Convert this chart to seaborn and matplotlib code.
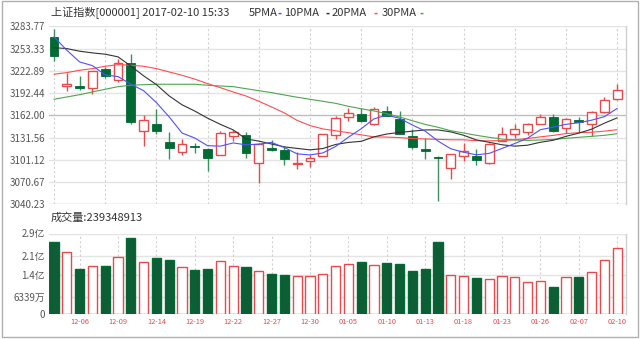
import matplotlib
matplotlib.use("Agg")
import matplotlib.pyplot as plt
from matplotlib.patches import Rectangle
import numpy as np
import pandas as pd
import seaborn as sns

# ---- daily bars: 上证指数 (000001), 2016-12-02 .. 2017-02-10 ----
dates = ["12-02", "12-05", "12-06", "12-07", "12-08", "12-09", "12-12", "12-13", "12-14",
         "12-15", "12-16", "12-19", "12-20", "12-21", "12-22", "12-23", "12-26", "12-27",
         "12-28", "12-29", "12-30", "01-03", "01-04", "01-05", "01-06", "01-09", "01-10",
         "01-11", "01-12", "01-13", "01-16", "01-17", "01-18", "01-19", "01-20", "01-23",
         "01-24", "01-25", "01-26", "02-03", "02-06", "02-07", "02-08", "02-09", "02-10"]

opens = [3269.7, 3202.5, 3202.1, 3199.4, 3225.4, 3210.0, 3234.1, 3140.1, 3150.1,
         3125.4, 3111.7, 3120.0, 3116.3, 3107.6, 3133.2, 3134.6, 3096.2, 3117.2,
         3114.4, 3095.5, 3099.0, 3106.2, 3134.6, 3159.3, 3164.2, 3149.7, 3167.5,
         3157.3, 3133.6, 3116.3, 3105.2, 3090.0, 3105.7, 3105.7, 3096.2, 3127.2,
         3136.0, 3138.7, 3150.1, 3159.3, 3144.6, 3155.2, 3149.7, 3166.1, 3183.9]
highs = [3280.6, 3220.4, 3215.8, 3223.0, 3228.2, 3239.5, 3246.0, 3162.0, 3170.2,
         3139.1, 3129.1, 3124.3, 3117.2, 3140.5, 3141.5, 3139.1, 3124.0, 3127.7,
         3119.9, 3111.7, 3108.0, 3136.9, 3160.6, 3172.0, 3172.0, 3173.4, 3174.7,
         3167.5, 3142.8, 3130.9, 3106.0, 3109.0, 3123.7, 3116.3, 3124.0, 3146.0,
         3150.1, 3151.9, 3164.2, 3163.8, 3158.7, 3160.1, 3167.5, 3187.1, 3205.2]
lows = [3236.0, 3195.3, 3196.3, 3190.8, 3213.1, 3207.6, 3150.5, 3119.5, 3136.8,
        3101.7, 3107.2, 3110.7, 3085.3, 3107.0, 3126.8, 3103.5, 3069.0, 3113.0,
        3094.3, 3088.4, 3090.7, 3105.8, 3129.9, 3154.6, 3152.8, 3148.3, 3161.0,
        3136.2, 3116.3, 3102.5, 3044.7, 3074.3, 3099.8, 3094.3, 3095.0, 3126.4,
        3131.3, 3134.6, 3149.5, 3139.1, 3137.4, 3139.1, 3133.2, 3165.5, 3183.0]
closes = [3243.8, 3204.7, 3199.7, 3222.2, 3215.4, 3232.9, 3153.0, 3155.0, 3140.5,
          3117.7, 3123.0, 3118.1, 3102.9, 3137.4, 3139.6, 3110.2, 3122.6, 3114.7,
          3102.2, 3096.1, 3103.6, 3135.9, 3158.8, 3165.4, 3154.3, 3171.2, 3161.7,
          3136.8, 3119.3, 3112.8, 3103.4, 3108.8, 3113.0, 3101.3, 3123.1, 3136.8,
          3142.6, 3149.6, 3159.2, 3140.2, 3157.0, 3153.1, 3167.0, 3183.2, 3196.7]

# turnover, in 亿股
volumes = [2.596, 2.247, 1.615, 1.723, 1.745, 2.068, 2.750, 1.877, 2.021,
           1.938, 1.687, 1.590, 1.615, 1.902, 1.723, 1.698, 1.565, 1.457,
           1.410, 1.375, 1.386, 1.457, 1.723, 1.795, 1.877, 1.770, 1.841,
           1.816, 1.554, 1.615, 2.585, 1.400, 1.375, 1.303, 1.278, 1.375,
           1.328, 1.170, 1.195, 0.991, 1.328, 1.350, 1.518, 1.949, 2.39348913]

ma5 = [3269.3, 3251.1, 3235.0, 3230.0, 3217.2, 3215.0, 3204.6, 3195.7, 3179.4,
       3159.8, 3137.8, 3130.9, 3120.4, 3119.8, 3124.2, 3121.6, 3122.5, 3124.9,
       3117.9, 3109.2, 3107.8, 3110.5, 3119.3, 3132.0, 3143.6, 3157.1, 3162.3,
       3157.9, 3148.7, 3140.4, 3126.8, 3116.2, 3111.5, 3107.9, 3109.9, 3116.6,
       3123.4, 3130.7, 3142.3, 3145.7, 3149.7, 3151.8, 3155.3, 3160.1, 3171.4]
ma10 = [3254.6, 3253.3, 3249.7, 3247.4, 3245.6, 3242.0, 3229.5, 3216.0, 3204.0,
        3188.5, 3176.4, 3167.8, 3158.1, 3149.6, 3142.0, 3129.7, 3126.7, 3122.7,
        3118.8, 3116.7, 3114.7, 3116.5, 3122.1, 3124.9, 3126.4, 3132.5, 3136.4,
        3138.6, 3140.3, 3142.0, 3142.0, 3139.3, 3134.7, 3128.3, 3125.1, 3121.7,
        3119.8, 3121.1, 3125.1, 3127.8, 3133.2, 3137.6, 3143.0, 3151.2, 3158.5]
ma20 = [3218.2, 3220.4, 3223.6, 3225.9, 3229.1, 3231.3, 3230.5, 3229.1, 3225.9,
        3221.3, 3216.8, 3211.5, 3205.3, 3199.8, 3193.9, 3188.4, 3181.2, 3173.4,
        3165.2, 3155.0, 3148.0, 3143.4, 3140.8, 3138.2, 3135.3, 3132.4, 3132.2,
        3131.5, 3130.2, 3129.6, 3129.1, 3128.5, 3128.5, 3127.2, 3127.0, 3127.4,
        3128.6, 3130.2, 3132.5, 3134.5, 3137.0, 3138.2, 3138.8, 3140.3, 3142.3]
ma30 = [3183.9, 3187.1, 3190.2, 3193.9, 3197.6, 3201.2, 3203.1, 3203.9, 3204.5,
        3204.5, 3204.5, 3204.5, 3203.1, 3202.1, 3201.2, 3198.4, 3195.7, 3193.0,
        3189.8, 3186.7, 3183.9, 3181.2, 3178.4, 3174.3, 3171.0, 3167.9, 3164.2,
        3159.7, 3154.6, 3149.5, 3145.6, 3140.9, 3137.8, 3134.6, 3131.9, 3129.5,
        3128.2, 3127.7, 3128.2, 3129.1, 3130.5, 3131.9, 3133.2, 3134.6, 3136.8]

price_ticks = [3040.23, 3070.67, 3101.12, 3131.56, 3162.00, 3192.44, 3222.89, 3253.33, 3283.77]
vol_ticks = [0, 0.6339, 1.4, 2.1, 2.9]
vol_tick_labels = ["0", "6339万", "1.4亿", "2.1亿", "2.9亿"]

# ---- styling ----
sns.set_style("white")
plt.rcParams["font.family"] = ["Noto Sans CJK SC", "DejaVu Sans"]
plt.rcParams["axes.unicode_minus"] = False

UP = "#e64b4b"
DOWN = "#006b33"
DOWN_WICK = "#3d8f5f"
GRID = "#e4e4e4"
TXT = "#555555"
MA_COLORS = {"5PMA": "#5050ff", "10PMA": "#333333", "20PMA": "#ff4d4d", "30PMA": "#4ea64e"}

n = len(dates)
idx = np.arange(n)
is_up = [c >= o for o, c in zip(opens, closes)]

W_PX, H_PX = 640, 339
fig = plt.figure(figsize=(W_PX / 100, H_PX / 100), dpi=100)
fig.patch.set_facecolor("white")

left = 49 / W_PX
width = (626 - 49) / W_PX
ax = fig.add_axes([left, (H_PX - 204.3) / H_PX, width, 178.0 / H_PX])
axv = fig.add_axes([left, (H_PX - 314.3) / H_PX, width, 80.8 / H_PX])

xlim = (-0.39, 44.69)

# ---- price panel ----
ax.set_ylim(price_ticks[0], price_ticks[-1])
for t in price_ticks:
    col = "#bdbdbd" if t in (3162.00, 3040.23) else GRID
    ax.axhline(t, color=col, lw=1.0, zorder=0)
ax.vlines(np.arange(0, n, 4), price_ticks[0], price_ticks[-1], colors="#d2d2d2",
          linestyles=(0, (2, 2)), lw=0.8, zorder=0)

body_w = 0.68
for i in range(n):
    o, h, l, c = opens[i], highs[i], lows[i], closes[i]
    if is_up[i]:
        ax.vlines(i, l, h, color=UP, lw=1.0, zorder=2)
        lo, hi = min(o, c), max(o, c)
        ax.add_patch(Rectangle((i - body_w / 2, lo), body_w, max(hi - lo, 0.6),
                               facecolor="white", edgecolor=UP, lw=1.0, zorder=3))
    else:
        ax.vlines(i, l, h, color=DOWN_WICK, lw=1.0, zorder=2)
        ax.add_patch(Rectangle((i - body_w / 2, c), body_w, max(o - c, 0.9),
                               facecolor=DOWN, edgecolor=DOWN, lw=0.6, zorder=3))

for name, series in (("30PMA", ma30), ("20PMA", ma20), ("10PMA", ma10), ("5PMA", ma5)):
    sns.lineplot(x=idx, y=series, ax=ax, color=MA_COLORS[name], lw=0.8, zorder=4,
                 legend=False)

ax.set_xlim(*xlim)
ax.set_xticks([])
ax.set_yticks(price_ticks)
ax.set_yticklabels([f"{t:.2f}" for t in price_ticks])
ax.tick_params(axis="y", length=2, width=0.8, color="#999999", labelsize=7,
               labelcolor=TXT, pad=1)
ax.set_ylabel("")
ax.set_xlabel("")
for s in ("left", "top", "bottom"):
    ax.spines[s].set_visible(False)
ax.spines["right"].set_color("#cfcfcf")
ax.spines["right"].set_linewidth(1.0)

# ---- volume panel ----
vdf = pd.DataFrame({"idx": idx, "vol": volumes,
                    "dir": ["up" if u else "down" for u in is_up]})
sns.barplot(data=vdf, x="idx", y="vol", hue="dir", palette={"up": "white", "down": DOWN},
            dodge=False, legend=False, errorbar=None, width=0.72, ax=axv, zorder=3)
for p in axv.patches:
    fc = p.get_facecolor()
    if fc[0] > 0.9:
        p.set_edgecolor(UP)
    else:
        p.set_edgecolor(DOWN)
    p.set_linewidth(1.0)

axv.set_ylim(0, 2.9)
for t in vol_ticks:
    col = "#bdbdbd" if t == 0 else GRID
    axv.axhline(t, color=col, lw=1.0, zorder=0)
axv.vlines(np.arange(2, n, 3), 0, 2.9, colors="#d2d2d2", linestyles=(0, (2, 2)),
           lw=0.8, zorder=0)
axv.set_xlim(*xlim)
axv.set_xticks(np.arange(2, n, 3))
axv.set_xticklabels([dates[i] for i in range(2, n, 3)])
axv.tick_params(axis="x", length=0, labelsize=5.3, labelcolor=UP, pad=2.6)
axv.set_yticks(vol_ticks)
axv.set_yticklabels(vol_tick_labels)
axv.tick_params(axis="y", length=2, width=0.8, color="#999999", labelsize=7,
                labelcolor=TXT, pad=1)
axv.set_xlabel("")
axv.set_ylabel("")
for s in ("left", "top", "bottom"):
    axv.spines[s].set_visible(False)
axv.spines["right"].set_color("#cfcfcf")
axv.spines["right"].set_linewidth(1.0)

# ---- header texts ----
def fx(px):
    return px / W_PX

def fy(py):
    return 1 - py / H_PX

fig.text(fx(51), fy(13.3), "上证指数[000001] 2017-02-10 15:33", fontsize=8,
         color="#333333", va="center", ha="left")
for s, x in (("5PMA", 248.3), ("10PMA", 284.0), ("20PMA", 332.0), ("30PMA", 381.7)):
    fig.text(fx(x), fy(13.3), s, fontsize=8, color="#333333", va="center", ha="left")
# short coloured bars after each average's name
for name, xc in (("5PMA", 279.5), ("10PMA", 327.3), ("20PMA", 375.3), ("30PMA", 422.0)):
    fig.text(fx(xc), fy(13.3), "-", fontsize=8, color=MA_COLORS[name], va="center",
             ha="center", fontweight="bold")

fig.text(fx(51), fy(217.3), f"成交量:{int(round(volumes[-1] * 1e8))}", fontsize=8,
         color="#333333", va="center", ha="left")

# outer frame
fig.patches.append(Rectangle((fx(1.5), fy(336.7)), fx(636.0), fy(0.7) - fy(336.7),
                             transform=fig.transFigure, fill=False,
                             edgecolor="#b0b0b0", lw=1.0))

fig.savefig("out.png", dpi=100)
